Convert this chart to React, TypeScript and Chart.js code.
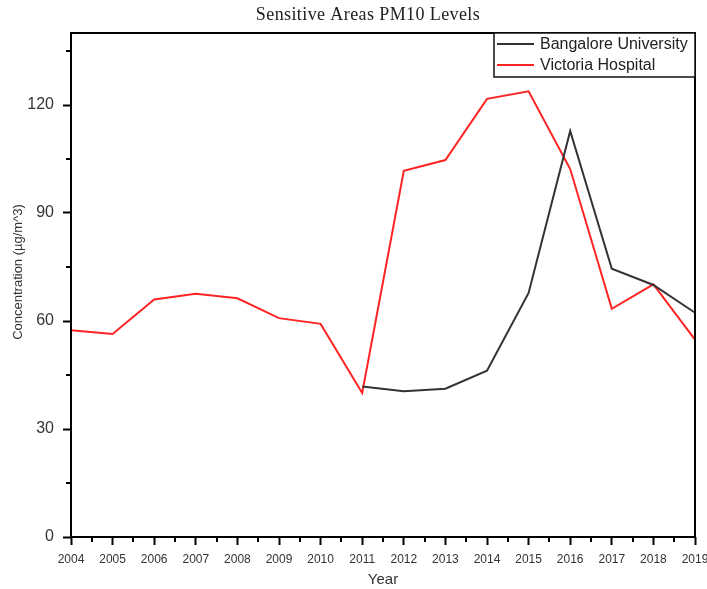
import { useEffect, useRef } from 'react';
import { Chart, registerables } from 'chart.js';

Chart.register(...registerables);

// Annual PM10 concentration (µg/m^3) at two sensitive-area stations
const years = ['2004', '2005', '2006', '2007', '2008', '2009', '2010', '2011', '2012', '2013', '2014', '2015', '2016', '2017', '2018', '2019'];
const bangaloreUniversity = [null, null, null, null, null, null, null, 41.8, 40.5, 41.2, 46.2, 67.8, 112.8, 74.5, 70.0, 62.3];
const victoriaHospital = [57.4, 56.4, 66.0, 67.6, 66.3, 60.8, 59.2, 40.0, 101.7, 104.7, 121.7, 123.8, 102.2, 63.4, 70.2, 54.8];

const yMajorTicks = [0, 30, 60, 90, 120];
const yMinorTicks = [15, 45, 75, 105, 135];

const chartTitle = 'Sensitive Areas PM10 Levels';
const xTitle = 'Year';
const yTitle = 'Concentration (µg/m^3)';

const SANS = '"Liberation Sans", Arial, sans-serif';
const SERIF = '"Liberation Serif", "Times New Roman", serif';

// Frame, minor ticks, titles and the boxed legend
const decorations = {
  id: 'decorations',
  afterDraw(chart: any) {
    const { ctx, chartArea, scales } = chart;
    const { left, right, top, bottom } = chartArea;
    const x = scales.x;
    const y = scales.y;
    ctx.save();

    // plot frame
    ctx.strokeStyle = '#000';
    ctx.lineWidth = 2;
    ctx.strokeRect(left, top, right - left, bottom - top);

    // minor ticks
    ctx.beginPath();
    yMinorTicks.forEach((v) => {
      const py = Math.round(y.getPixelForValue(v));
      ctx.moveTo(left - 5, py);
      ctx.lineTo(left, py);
    });
    for (let i = 0; i < years.length - 1; i++) {
      const px = Math.round((x.getPixelForValue(i) + x.getPixelForValue(i + 1)) / 2);
      ctx.moveTo(px, bottom);
      ctx.lineTo(px, bottom + 5);
    }
    ctx.stroke();

    // chart title
    ctx.fillStyle = '#222';
    ctx.textAlign = 'center';
    ctx.textBaseline = 'middle';
    ctx.font = `18px ${SERIF}`;
    if ('letterSpacing' in ctx) (ctx as any).letterSpacing = '0.4px';
    ctx.fillText(chartTitle, 368, 15);
    if ('letterSpacing' in ctx) (ctx as any).letterSpacing = '0px';

    // axis titles
    ctx.fillStyle = '#333';
    ctx.font = `15px ${SANS}`;
    ctx.fillText(xTitle, (left + right) / 2, 580);
    ctx.save();
    ctx.translate(18, 272);
    ctx.rotate(-Math.PI / 2);
    ctx.font = `13px ${SANS}`;
    ctx.fillText(yTitle, 0, 0);
    ctx.restore();

    // legend
    const boxLeft = 494;
    const boxTop = top;
    const boxBottom = 77;
    ctx.fillStyle = '#fff';
    ctx.fillRect(boxLeft, boxTop, right - boxLeft, boxBottom - boxTop);
    ctx.strokeStyle = '#111';
    ctx.lineWidth = 1.5;
    ctx.strokeRect(boxLeft, boxTop, right - boxLeft, boxBottom - boxTop);
    ctx.textAlign = 'left';
    ctx.font = `16px ${SANS}`;
    chart.data.datasets.forEach((ds: any, i: number) => {
      const rowY = 44 + i * 21;
      ctx.strokeStyle = ds.borderColor;
      ctx.lineWidth = 2;
      ctx.beginPath();
      ctx.moveTo(497, rowY);
      ctx.lineTo(534, rowY);
      ctx.stroke();
      ctx.fillStyle = '#222';
      ctx.fillText(ds.label, 540, rowY + 1);
    });

    ctx.restore();
  },
};

export default function App() {
  const canvasRef = useRef<HTMLCanvasElement | null>(null);

  useEffect(() => {
    if (!canvasRef.current) return;
    const chart = new Chart(canvasRef.current, {
      type: 'line',
      data: {
        labels: years,
        datasets: [
          {
            label: 'Bangalore University',
            data: bangaloreUniversity,
            borderColor: '#333333',
            borderWidth: 2,
            pointRadius: 0,
            tension: 0,
            spanGaps: false,
          },
          {
            label: 'Victoria Hospital',
            data: victoriaHospital,
            borderColor: '#ff2424',
            borderWidth: 2,
            pointRadius: 0,
            tension: 0,
          },
        ],
      },
      options: {
        responsive: false,
        animation: false,
        devicePixelRatio: 1,
        layout: { padding: { top: 33, right: 12, left: 0, bottom: 0 } },
        plugins: {
          legend: { display: false },
          title: { display: false },
          tooltip: { enabled: false },
        },
        scales: {
          x: {
            type: 'category',
            offset: false,
            border: { display: false },
            grid: {
              drawOnChartArea: false,
              drawTicks: true,
              tickLength: 8,
              tickWidth: 2,
              tickColor: '#000',
            },
            ticks: {
              autoSkip: false,
              maxRotation: 0,
              minRotation: 0,
              padding: 7,
              color: '#333',
              font: { family: SANS, size: 12 },
            },
            afterFit(scale: any) {
              scale.height = 52;
              scale.paddingLeft = 0;
              scale.paddingRight = 0;
            },
          },
          y: {
            type: 'linear',
            min: 0,
            max: 140,
            border: { display: false },
            grid: {
              drawOnChartArea: false,
              drawTicks: true,
              tickLength: 8,
              tickWidth: 2,
              tickColor: '#000',
            },
            ticks: {
              padding: 9,
              color: '#333',
              font: { family: SANS, size: 16 },
            },
            afterBuildTicks(scale: any) {
              scale.ticks = yMajorTicks.map((v) => ({ value: v }));
            },
            afterFit(scale: any) {
              scale.width = 71;
              scale.paddingTop = 0;
              scale.paddingBottom = 0;
            },
          },
        },
      },
      plugins: [decorations],
    });
    return () => chart.destroy();
  }, []);

  return (
    <div style={{ position: 'fixed', left: 0, top: 0, width: 707, height: 589, background: '#fff' }}>
      <canvas ref={canvasRef} width={707} height={589} />
    </div>
  );
}
